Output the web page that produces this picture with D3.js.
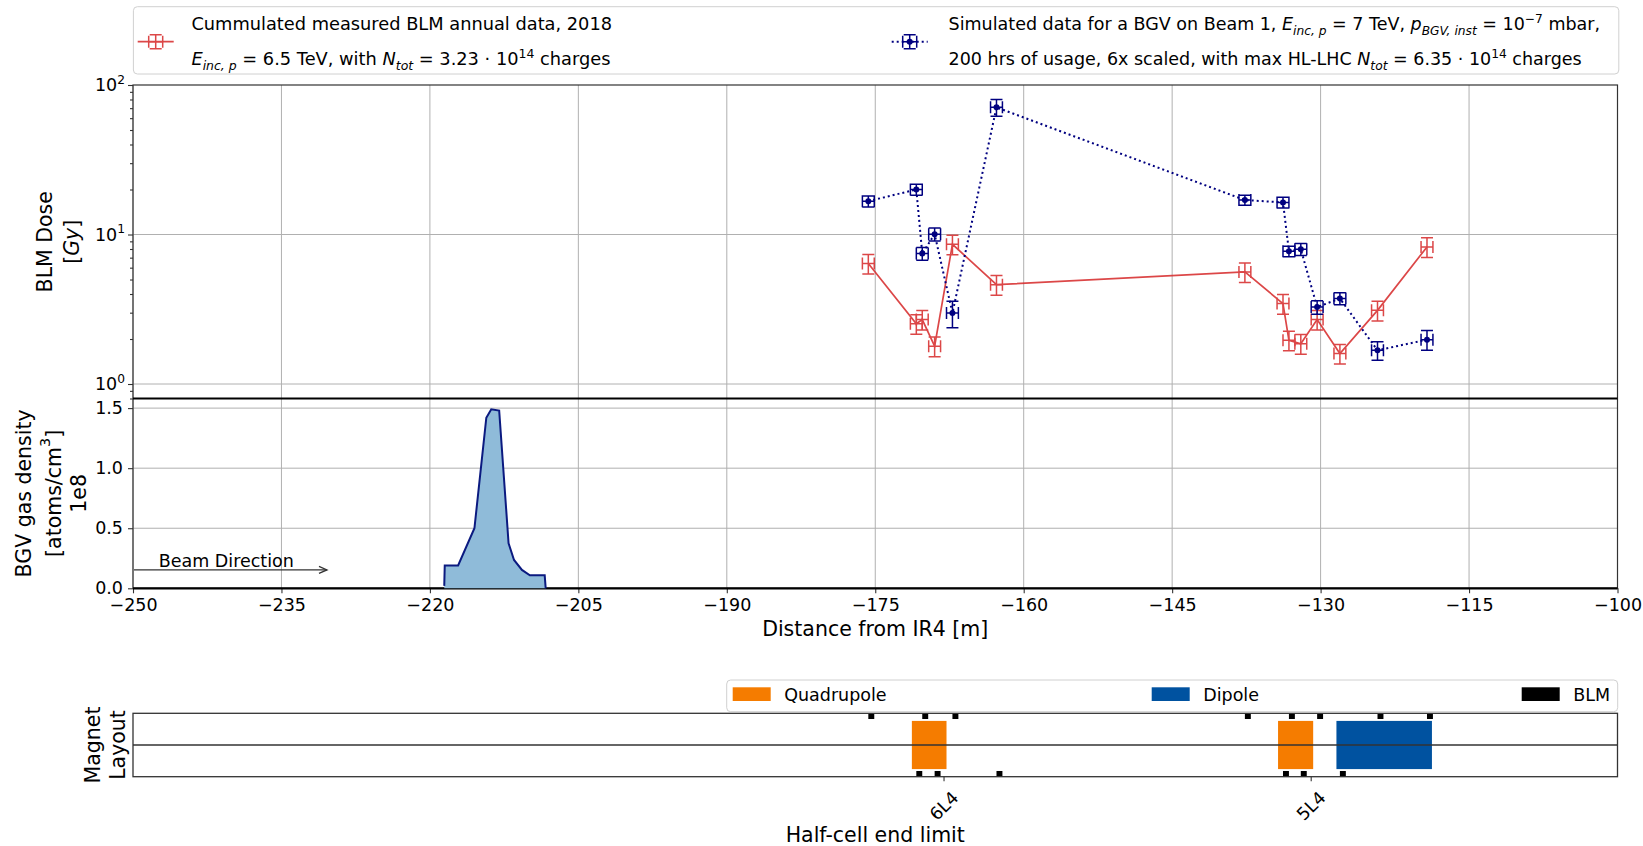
<!DOCTYPE html>
<html>
<head>
<meta charset="utf-8">
<script src="https://cdn.jsdelivr.net/npm/d3@7"></script>
<style>
  body { margin: 0; background: #fff; }
  svg text { font-family: "DejaVu Sans", sans-serif; fill: #000; }
</style>
</head>
<body>
<svg id="root" width="1643" height="846"></svg>
<script>
// BLM positions along the line [m] and which side of the beam pipe they sit on
const blmPos = [-175.7, -170.85, -170.25, -169.0, -167.2, -162.75, -137.65, -133.8, -133.2, -132.0, -130.35, -128.05, -124.25, -119.25];
const blmSide = [1, -1, 1, -1, 1, -1, 1, -1, 1, -1, 1, -1, 1, 1];
const posErr = 0.6;

// measured 2018 dose [Gy]
const measDose = [6.4, 2.53, 2.7, 1.79, 8.6, 4.62, 5.62, 3.45, 1.96, 1.86, 2.7, 1.6, 3.11, 8.26];
const measErr = [0.96, 0.38, 0.4, 0.27, 1.29, 0.69, 0.84, 0.52, 0.29, 0.28, 0.4, 0.24, 0.47, 1.24];

// simulated BGV dose [Gy]
const simDose = [16.7, 20.0, 7.46, 10.05, 2.98, 70.9, 17.0, 16.4, 7.73, 7.97, 3.27, 3.73, 1.68, 1.98];
const simErr = [1.4, 1.7, 0.73, 1.0, 0.6, 9.1, 1.3, 1.35, 0.63, 0.72, 0.34, 0.34, 0.24, 0.3];

// BGV gas density profile [1e8 atoms/cm3]
const gasPos = [-218.55, -218.5, -217.15, -215.5, -214.3, -213.8, -213.0, -212.05, -211.5, -210.7, -209.9, -208.4, -208.3];
const gasDens = [0.02, 0.19, 0.19, 0.5, 1.42, 1.49, 1.48, 0.375, 0.236, 0.153, 0.108, 0.108, 0.0];

// magnet layout [m]
const quadStart = [-171.3, -134.3];
const quadEnd = [-167.8, -130.75];
const dipoleStart = [-128.4];
const dipoleEnd = [-118.75];
const cellLimits = [-168.05, -130.95];
const cellNames = ["6L4", "5L4"];

const xTicks = [-250, -235, -220, -205, -190, -175, -160, -145, -130, -115, -100];
const doseTicks = [1, 10, 100];
const gasTicks = [0, 0.5, 1.0, 1.5];

const redCol = "#d62728", navy = "#000080";
const quadCol = "#f57c00", dipCol = "#0052a0";
const FS = 17.5, LFS = 20.5;

let svg = d3.select("#root");
let x = d3.scaleLinear().domain([-250, -100]).range([133, 1617.5]);
let yDose = d3.scaleLog().domain([0.8, 100]).range([398.5, 85]);
let yGas = d3.scaleLinear().domain([0, 1.58]).range([588.3, 398.5]);
let yMag = d3.scaleLinear().domain([-1, 1]).range([776.7, 713.3]);

// text with sub/superscripts, parts = [text, "sub"|"sup"|"", italic]
function mathText(g, px, py, parts, size) {
  let t = g.append("text").attr("x", px).attr("y", py).style("font-size", size + "px");
  let cur = 0;
  parts.forEach(p => {
    let off = p[1] === "sub" ? size * 0.3 : p[1] === "sup" ? -size * 0.42 : 0;
    t.append("tspan")
      .attr("dy", off - cur)
      .style("font-size", p[1] ? size * 0.7 + "px" : null)
      .style("font-style", p[2] ? "italic" : null)
      .text(p[0]);
    cur = off;
  });
  return t;
}

// ---------- grid ----------
let grid = svg.append("g").attr("stroke", "#b0b0b0").attr("stroke-width", 1);
grid.selectAll(".gx").data(xTicks).enter().append("line")
  .attr("x1", d => x(d)).attr("x2", d => x(d))
  .attr("y1", yDose.range()[1]).attr("y2", yGas.range()[0]);
grid.selectAll(".gyd").data([1, 10]).enter().append("line")
  .attr("x1", x.range()[0]).attr("x2", x.range()[1])
  .attr("y1", d => yDose(d)).attr("y2", d => yDose(d));
grid.selectAll(".gyg").data(gasTicks.slice(1)).enter().append("line")
  .attr("x1", x.range()[0]).attr("x2", x.range()[1])
  .attr("y1", d => yGas(d)).attr("y2", d => yGas(d));

// ---------- axes ----------
function styleAxis(g) {
  g.select(".domain").remove();
  g.selectAll("line").attr("stroke", "#333").attr("stroke-width", 1.1);
  g.selectAll("text").style("font-size", FS + "px").attr("fill", "#000");
}

svg.append("g").attr("transform", `translate(0,${yGas(0)})`)
  .call(d3.axisBottom(x).tickValues(xTicks).tickSize(5).tickPadding(5).tickFormat(d3.format("d")))
  .call(styleAxis);

svg.append("g").attr("transform", `translate(${x(-250)},0)`)
  .call(d3.axisLeft(yGas).tickValues(gasTicks).tickSize(5).tickPadding(5).tickFormat(d3.format(".1f")))
  .call(styleAxis)
  .selectAll("text").attr("dy", "0.3em");

let minor = yDose.ticks().filter(d => doseTicks.indexOf(d) < 0);
svg.append("g").attr("transform", `translate(${x(-250)},0)`)
  .call(d3.axisLeft(yDose).tickValues(minor).tickSize(3).tickFormat(""))
  .call(styleAxis);
svg.append("g").attr("transform", `translate(${x(-250)},0)`)
  .call(d3.axisLeft(yDose).tickValues(doseTicks).tickSize(5).tickFormat(""))
  .call(styleAxis);
doseTicks.forEach(d => {
  mathText(svg, x(-250) - 8, yDose(d) + 6, [["10", "", false], [String(Math.round(Math.log10(d))), "sup", false]], FS)
    .attr("text-anchor", "end");
});

// spines
let sp = svg.append("g").attr("fill", "none").attr("stroke", "#333").attr("stroke-width", 1.2);
sp.append("rect").attr("x", x(-250)).attr("y", yDose(100))
  .attr("width", x(-100) - x(-250)).attr("height", yGas(0) - yDose(100));
svg.append("line").attr("x1", x(-250)).attr("x2", x(-100))
  .attr("y1", yDose(0.8)).attr("y2", yDose(0.8)).attr("stroke", "#000").attr("stroke-width", 2.2);
svg.append("line").attr("x1", x(-250)).attr("x2", x(-100))
  .attr("y1", yGas(0)).attr("y2", yGas(0)).attr("stroke", "#000").attr("stroke-width", 2.2);

// ---------- gas density ----------
let area = d3.area().x((d, i) => x(gasPos[i])).y0(yGas(0)).y1(d => yGas(d));
svg.append("path").datum(gasDens).attr("d", area).attr("fill", "#8fbbd9");
svg.append("path").datum(gasDens)
  .attr("d", d3.line().x((d, i) => x(gasPos[i])).y(d => yGas(d)))
  .attr("fill", "none").attr("stroke", "#0b1a80").attr("stroke-width", 2);

// beam direction arrow
let ay = yGas(0.153);
let arr = svg.append("g").attr("stroke", "#333").attr("stroke-width", 1.3).attr("fill", "none");
arr.append("line").attr("x1", x(-250) + 1).attr("x2", x(-230.4)).attr("y1", ay).attr("y2", ay);
arr.append("path").attr("d", `M${x(-230.4) - 8},${ay - 3.5}L${x(-230.4)},${ay}L${x(-230.4) - 8},${ay + 3.5}`);
svg.append("text").attr("x", x(-247.4)).attr("y", ay - 3).style("font-size", FS + "px").text("Beam Direction");

// ---------- dose series ----------
function errorBars(g, vals, errs, color, cap) {
  let eb = g.append("g").attr("stroke", color).attr("stroke-width", 1.5).attr("fill", "none");
  vals.forEach((v, i) => {
    let cx = x(blmPos[i]), cy = yDose(v);
    let xl = x(blmPos[i] - posErr), xr = x(blmPos[i] + posErr);
    let yt = yDose(v + errs[i]), yb = yDose(v - errs[i]);
    eb.append("path").attr("d",
      `M${xl},${cy}H${xr}M${xl},${cy - cap}V${cy + cap}M${xr},${cy - cap}V${cy + cap}` +
      `M${cx},${yt}V${yb}M${cx - cap},${yt}H${cx + cap}M${cx - cap},${yb}H${cx + cap}`);
  });
}

let meas = svg.append("g").attr("opacity", 0.85);
meas.append("path").datum(measDose)
  .attr("d", d3.line().x((d, i) => x(blmPos[i])).y(d => yDose(d)))
  .attr("fill", "none").attr("stroke", redCol).attr("stroke-width", 1.7);
errorBars(meas, measDose, measErr, redCol, 6);

let sim = svg.append("g");
sim.append("path").datum(simDose)
  .attr("d", d3.line().x((d, i) => x(blmPos[i])).y(d => yDose(d)))
  .attr("fill", "none").attr("stroke", navy).attr("stroke-width", 2)
  .attr("stroke-dasharray", "2,3");
errorBars(sim, simDose, simErr, navy, 6);
sim.selectAll("circle").data(simDose).enter().append("circle")
  .attr("cx", (d, i) => x(blmPos[i])).attr("cy", d => yDose(d)).attr("r", 3).attr("fill", navy);

// ---------- top legend ----------
let leg = svg.append("g");
leg.append("rect").attr("x", 133.4).attr("y", 6.7).attr("width", 1485.4).attr("height", 67.3)
  .attr("rx", 4).attr("fill", "#fff").attr("stroke", "#d0d0d0");
function legendHandle(cx, cy, color, dotted) {
  let h = leg.append("g").attr("stroke", color).attr("stroke-width", 1.5).attr("fill", "none")
    .attr("opacity", dotted ? 1 : 0.85);
  h.append("line").attr("x1", cx - 18).attr("x2", cx + 18).attr("y1", cy).attr("y2", cy)
    .attr("stroke-dasharray", dotted ? "2,3" : null).attr("stroke-width", dotted ? 2 : 1.7);
  h.append("path").attr("d",
    `M${cx - 7},${cy - 6}V${cy + 6}M${cx + 7},${cy - 6}V${cy + 6}` +
    `M${cx},${cy - 7}V${cy + 7}M${cx - 6},${cy - 7}H${cx + 6}M${cx - 6},${cy + 7}H${cx + 6}M${cx - 7},${cy}H${cx + 7}`);
  if (dotted) leg.append("circle").attr("cx", cx).attr("cy", cy).attr("r", 3).attr("fill", color);
}
legendHandle(155.7, 41.7, redCol, false);
legendHandle(909.7, 41.7, navy, true);

mathText(leg, 191.4, 30, [["Cummulated measured BLM annual data, 2018", "", false]], 17.8);
mathText(leg, 191.4, 65, [
  ["E", "", true], ["inc, p", "sub", true], [" = 6.5 TeV, with ", "", false],
  ["N", "", true], ["tot", "sub", true], [" = 3.23 \u00b7 10", "", false], ["14", "sup", false],
  [" charges", "", false]], 17.8);
mathText(leg, 948.6, 30, [
  ["Simulated data for a BGV on Beam 1, ", "", false],
  ["E", "", true], ["inc, p", "sub", true], [" = 7 TeV, ", "", false],
  ["p", "", true], ["BGV, inst", "sub", true], [" = 10", "", false], ["\u22127", "sup", false],
  [" mbar,", "", false]], FS);
mathText(leg, 948.6, 65, [
  ["200 hrs of usage, 6x scaled, with max HL-LHC ", "", false],
  ["N", "", true], ["tot", "sub", true], [" = 6.35 \u00b7 10", "", false], ["14", "sup", false],
  [" charges", "", false]], FS);

// ---------- axis labels ----------
function vLabel(lines, cxs, cy) {
  lines.forEach((l, i) => {
    mathText(svg, 0, 0, l, LFS)
      .attr("text-anchor", "middle").attr("dominant-baseline", "central")
      .attr("transform", `translate(${cxs[i]},${cy}) rotate(-90)`);
  });
}
vLabel([[["BLM Dose", "", false]], [["[", "", false], ["Gy", "", true], ["]", "", false]]],
  [45, 71.7], (yDose(100) + yDose(0.8)) / 2);
vLabel([[["BGV gas density", "", false]],
  [["[atoms/cm", "", false], ["3", "sup", false], ["]", "", false]],
  [["1e8", "", false]]],
  [24, 53.6, 78.5], (yGas(0) + yGas(1.58)) / 2);
vLabel([[["Magnet", "", false]], [["Layout", "", false]]], [93, 118], (yMag(1) + yMag(-1)) / 2);

svg.append("text").attr("x", (x(-250) + x(-100)) / 2).attr("y", 636)
  .attr("text-anchor", "middle").style("font-size", LFS + "px").text("Distance from IR4 [m]");

// ---------- magnet layout ----------
let mag = svg.append("g");
mag.selectAll(".quad").data(quadStart).enter().append("rect")
  .attr("x", (d, i) => x(d)).attr("width", (d, i) => x(quadEnd[i]) - x(d))
  .attr("y", yMag(0.76)).attr("height", yMag(-0.76) - yMag(0.76)).attr("fill", quadCol);
mag.selectAll(".dip").data(dipoleStart).enter().append("rect")
  .attr("x", (d, i) => x(d)).attr("width", (d, i) => x(dipoleEnd[i]) - x(d))
  .attr("y", yMag(0.76)).attr("height", yMag(-0.76) - yMag(0.76)).attr("fill", dipCol);
mag.selectAll(".blm").data(blmPos).enter().append("rect")
  .attr("x", d => x(d)).attr("width", d => x(d + 0.6) - x(d))
  .attr("y", (d, i) => blmSide[i] > 0 ? yMag(1) : yMag(-0.82))
  .attr("height", yMag(0.82) - yMag(1)).attr("fill", "#000");
mag.append("line").attr("x1", x(-250)).attr("x2", x(-100)).attr("y1", yMag(0)).attr("y2", yMag(0))
  .attr("stroke", "#333").attr("stroke-width", 1.6);
mag.append("rect").attr("x", x(-250)).attr("y", yMag(1)).attr("width", x(-100) - x(-250))
  .attr("height", yMag(-1) - yMag(1)).attr("fill", "none").attr("stroke", "#333").attr("stroke-width", 1.3);

mag.selectAll(".ctick").data(cellLimits).enter().append("line")
  .attr("x1", d => x(d)).attr("x2", d => x(d)).attr("y1", yMag(-1)).attr("y2", yMag(-1) + 4.5)
  .attr("stroke", "#333").attr("stroke-width", 1.1);
mag.selectAll(".clab").data(cellLimits).enter().append("text")
  .attr("text-anchor", "middle").attr("dominant-baseline", "central")
  .attr("transform", d => `translate(${x(d)},806) rotate(-45)`)
  .style("font-size", FS + "px").text((d, i) => cellNames[i]);
svg.append("text").attr("x", (x(-250) + x(-100)) / 2).attr("y", 842)
  .attr("text-anchor", "middle").style("font-size", LFS + "px").text("Half-cell end limit");

// magnet legend
let mleg = svg.append("g");
mleg.append("rect").attr("x", 726.7).attr("y", 680).attr("width", 891).attr("height", 31.7)
  .attr("rx", 4).attr("fill", "#fff").attr("stroke", "#d0d0d0");
[["Quadrupole", quadCol, 732.7], ["Dipole", dipCol, 1151.7], ["BLM", "#000", 1521.7]].forEach(e => {
  mleg.append("rect").attr("x", e[2]).attr("y", 687.3).attr("width", 38).attr("height", 13.7).attr("fill", e[1]);
  mleg.append("text").attr("x", e[2] + 51.5).attr("y", 700.5).style("font-size", FS + "px").text(e[0]);
});
</script>
</body>
</html>
